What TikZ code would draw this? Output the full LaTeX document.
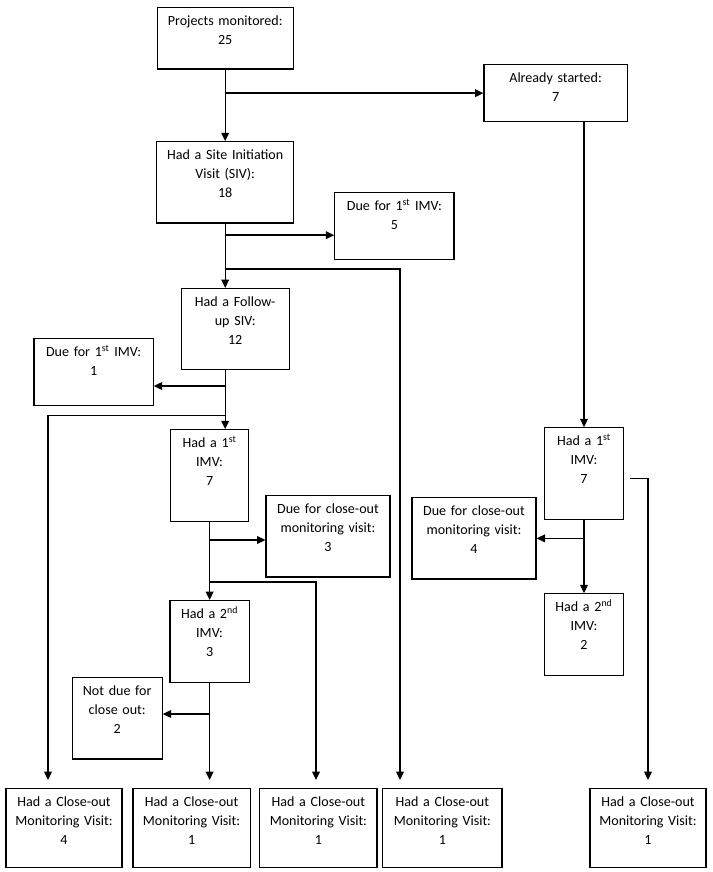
\documentclass[tikz,border=0pt]{standalone}
\usepackage{fontspec}
\setmainfont{Carlito}
\usepackage{tikz}
\usetikzlibrary{arrows.meta, positioning, calc}

\begin{document}
\begin{tikzpicture}[
    box/.style={draw, line width=0.8pt, anchor=north, align=center,
                inner xsep=0.1cm, inner ysep=0.15cm, text height=0.3cm,
                font=\fontsize{10}{13.5}\selectfont},
    arr/.style={-{Triangle[length=6pt,width=5.5pt]}, line width=1pt}
]
    \useasboundingbox (0,0) rectangle (17.8,-21.8);

    \node[box, text width=3.2cm, text depth=0.93cm] (proj) at (5.63,-0.18)
        {Projects monitored:\\25};
    \node[box, text width=3.38cm, text depth=0.83cm] (started) at (13.89,-1.6)
        {Already started:\\7};
    \node[box, text width=3.23cm, text depth=1.43cm] (siv) at (5.63,-3.53)
        {Had a Site Initiation\\Visit (SIV):\\18};
    \node[box, text width=2.78cm, text depth=1.08cm] (due5) at (9.86,-4.8)
        {Due for 1\textsuperscript{st} IMV:\\5};
    \node[box, text width=2.5cm, text depth=1.43cm] (fsiv) at (5.88,-7.2)
        {Had a Follow-\\up SIV:\\12};
    \node[box, text width=2.78cm, text depth=1.08cm] (due1) at (2.34,-8.45)
        {Due for 1\textsuperscript{st} IMV:\\1};
    \node[box, text width=1.75cm, text depth=1.7cm] (imvA) at (5.24,-10.73)
        {Had a 1\textsuperscript{st}\\IMV:\\7};
    \node[box, text width=2.9cm, text depth=1.43cm] (closeA) at (8.2,-12.38)
        {Due for close-out\\monitoring visit:\\3};
    \node[box, text width=1.78cm, text depth=1.45cm] (imvB) at (5.24,-15)
        {Had a 2\textsuperscript{nd}\\IMV:\\3};
    \node[box, text width=2.05cm, text depth=1.43cm] (notdue) at (2.93,-16.93)
        {Not due for\\close out:\\2};
    \node[box, text width=1.78cm, text depth=1.7cm] (imvC) at (14.6,-10.68)
        {Had a 1\textsuperscript{st}\\IMV:\\7};
    \node[box, text width=2.9cm, text depth=1.43cm] (closeB) at (11.85,-12.43)
        {Due for close-out\\monitoring visit:\\4};
    \node[box, text width=1.78cm, text depth=1.45cm] (imvD) at (14.6,-14.83)
        {Had a 2\textsuperscript{nd}\\IMV:\\2};

    \node[box, text width=2.7cm, text depth=1.38cm] (co1) at (1.6,-19.7)
        {Had a Close-out\\Monitoring Visit:\\4};
    \node[box, text width=2.73cm, text depth=1.38cm] (co2) at (4.79,-19.7)
        {Had a Close-out\\Monitoring Visit:\\1};
    \node[box, text width=2.73cm, text depth=1.38cm] (co3) at (7.96,-19.7)
        {Had a Close-out\\Monitoring Visit:\\1};
    \node[box, text width=2.78cm, text depth=1.38cm] (co4) at (11.06,-19.7)
        {Had a Close-out\\Monitoring Visit:\\1};
    \node[box, text width=2.7cm, text depth=1.38cm] (co5) at (16.2,-19.7)
        {Had a Close-out\\Monitoring Visit:\\1};

    \draw[arr] (proj.south) -- (proj.south |- siv.north);
    \draw[arr] (proj.south |- started.west) -- (started.west);
    \draw[arr] (started.south -| imvC.north) -- (imvC.north);
    \draw[arr] (siv.south) -- (siv.south |- fsiv.north);
    \draw[arr] (siv.south |- 0,-5.88) -- (due5.west |- 0,-5.88);
    \draw[arr] (siv.south |- 0,-6.73) -| ($(co4.north)+(-1.06,0.2)$);
    \draw[arr] (siv.south |- fsiv.south) -- (siv.south |- imvA.north);
    \draw[arr] (siv.south |- 0,-9.65) -- (due1.east |- 0,-9.65);
    \draw[arr] (siv.south |- 0,-10.38) -| ($(co1.north)+(-0.4,0.2)$);
    \draw[arr] (imvA.south) -- (imvA.south |- imvB.north);
    \draw[arr] (imvA.south |- 0,-13.5) -- (closeA.west |- 0,-13.5);
    \draw[arr] (imvA.south |- 0,-14.55) -| ($(co3.north)+(-0.06,0.2)$);
    \draw[arr] (imvB.south) -- ($(imvB.south |- co2.north)+(0,0.2)$);
    \draw[arr] (imvB.south |- 0,-17.85) -- (notdue.east |- 0,-17.85);
    \draw[arr] (imvC.south) -- (imvC.south |- imvD.north);
    \draw[arr] (imvC.south |- closeB.east) -- (closeB.east);
    \draw[arr] ($(imvC.east)+(0.15,-0.12)$) -| ($(co5.north)+(0,0.2)$);
\end{tikzpicture}
\end{document}
